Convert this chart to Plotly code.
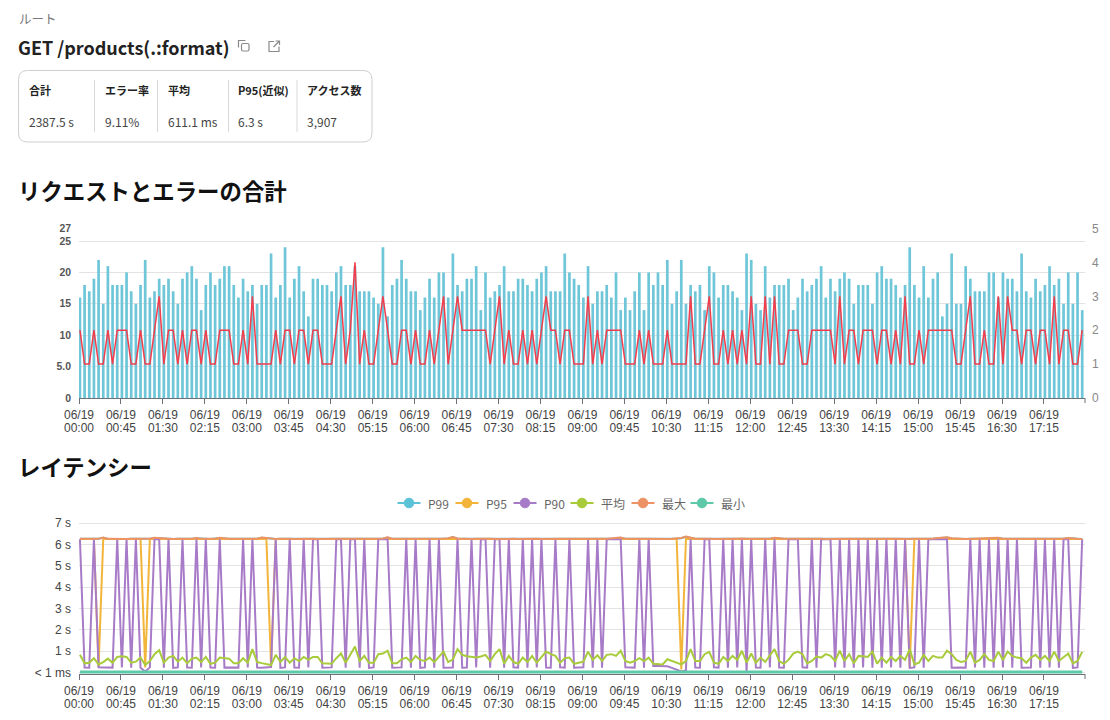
import plotly.graph_objects as go
import pandas as pd

W, H = 1110, 720
FONT = "Noto Sans CJK JP, Noto Sans, sans-serif"
NUM_FONT = "Liberation Sans, Arial, sans-serif"


def px(x):
    return x / W


def py(y):
    return 1 - y / H


# ---------------- data ----------------
times = pd.date_range("2024-06-19 00:01", periods=216, freq="5min")
x_start = "2024-06-19 00:00"
x_end = "2024-06-19 17:59"

requests = [
    16, 18, 17, 19, 22, 15, 21, 18, 18, 18, 20, 17, 15, 18, 22, 16, 17, 19, 18, 19,
    17, 15, 19, 20, 21, 19, 14, 18, 20, 18, 19, 21, 21, 18, 16, 19, 17, 18, 15, 18,
    18, 23, 16, 18, 24, 16, 19, 21, 17, 13, 19, 19, 18, 18, 17, 20, 21, 18, 18, 21,
    17, 17, 17, 16, 15, 24, 13, 18, 19,
    22, 19, 17, 17, 14, 16, 19, 16, 20, 20, 16, 23, 18, 17, 19, 19, 21, 14, 20, 16,
    17, 18, 21, 17, 17, 19, 19, 18, 17, 19, 20, 21, 17, 17, 17, 23, 20, 19, 18, 16,
    21, 15, 17, 17, 18, 16, 20, 14, 16, 14, 17, 20, 14, 20, 18, 20, 18, 22, 15, 17,
    22, 15, 18, 17, 18, 14, 21, 20, 16, 18, 18, 17, 16, 14, 23, 22, 15,
    14, 21, 16, 18, 18, 18, 19, 14, 16, 19, 17, 18, 19, 21, 16, 19, 17, 19, 20, 19,
    15, 18, 18, 18, 15, 20, 21, 19, 19, 18, 16, 18, 24, 18, 16, 21, 16, 19, 20, 13,
    15, 23, 15, 15, 21, 19, 17, 17, 17, 20, 20, 16, 20, 19, 19, 17, 23, 17, 16, 19,
    17, 18, 21, 18, 19, 15, 20, 15, 20, 14,
]

errors = [
    2, 1, 1, 2, 1, 1, 2, 1, 2, 2, 2, 1, 1, 2, 1, 1, 2, 3, 1, 2,
    2, 1, 2, 1, 2, 2, 1, 2, 1, 1, 2, 2, 2, 1, 1, 2, 1, 3, 1, 1,
    1, 1, 2, 1, 2, 2, 1, 2, 2, 1, 2, 2, 1, 1, 1, 2, 3, 1, 2, 4,
    1, 2, 1, 1, 2, 3, 2, 1, 1,
    2, 2, 1, 2, 1, 1, 2, 1, 2, 3, 1, 2, 3, 2, 2, 2, 2, 2, 2, 1,
    2, 3, 1, 2, 1, 1, 2, 1, 2, 1, 2, 3, 2, 2, 1, 2, 2, 1, 1, 1,
    3, 1, 2, 1, 2, 2, 2, 2, 1, 1, 1, 2, 1, 2, 1, 1, 1, 2, 1, 1,
    1, 1, 3, 1, 1, 2, 3, 1, 1, 2, 1, 2, 1, 2, 1, 3, 1,
    1, 3, 1, 3, 1, 1, 2, 2, 2, 1, 1, 2, 2, 2, 2, 2, 1, 3, 1, 2,
    2, 1, 2, 2, 2, 1, 2, 2, 1, 2, 1, 3, 1, 1, 2, 1, 2, 2, 2, 2,
    2, 2, 1, 1, 2, 3, 1, 1, 2, 1, 1, 3, 1, 3, 2, 2, 1, 2, 2, 1,
    2, 2, 1, 3, 1, 2, 2, 1, 1, 2,
]

lat_max = [
    6.27, 6.26, 6.27, 6.27, 6.28, 6.33, 6.27, 6.26, 6.27, 6.27, 6.26, 6.27,
    6.27, 6.28, 6.26, 6.27, 6.32, 6.30, 6.27, 6.26, 6.26, 6.27, 6.27, 6.26,
    6.28, 6.31, 6.27, 6.27, 6.26, 6.28, 6.32, 6.29, 6.27, 6.27, 6.26, 6.27,
    6.27, 6.28, 6.28, 6.33, 6.31, 6.27, 6.26, 6.27, 6.28, 6.27, 6.26, 6.27,
    6.28, 6.27, 6.27, 6.26, 6.27, 6.28, 6.29, 6.27, 6.27, 6.26, 6.27, 6.28,
    6.27, 6.26, 6.27, 6.28, 6.27, 6.29, 6.34, 6.28, 6.27, 6.27, 6.26, 6.27,
    6.27, 6.28, 6.27, 6.26, 6.27, 6.27, 6.29, 6.30, 6.36, 6.29, 6.27, 6.27,
    6.26, 6.27, 6.28, 6.27, 6.27, 6.26, 6.27, 6.28, 6.27, 6.27, 6.26, 6.27,
    6.27, 6.28, 6.27, 6.26, 6.27, 6.27, 6.28, 6.27, 6.27, 6.26, 6.27, 6.27,
    6.28, 6.27, 6.26, 6.27, 6.27, 6.28, 6.29, 6.30, 6.33, 6.28, 6.27, 6.27,
    6.26, 6.27, 6.27, 6.26, 6.27, 6.27, 6.26, 6.27, 6.28, 6.31, 6.38, 6.32,
    6.28, 6.27, 6.28, 6.27, 6.26, 6.27, 6.27, 6.28, 6.27, 6.27, 6.29, 6.27,
    6.27, 6.28, 6.27, 6.26, 6.28, 6.32, 6.29, 6.27, 6.27, 6.26, 6.27, 6.27,
    6.27, 6.28, 6.27, 6.27, 6.26, 6.27, 6.28, 6.27, 6.27, 6.28, 6.27, 6.26,
    6.27, 6.27, 6.28, 6.27, 6.27, 6.26, 6.27, 6.28, 6.27, 6.27, 6.26, 6.28,
    6.27, 6.27, 6.28, 6.29, 6.31, 6.32, 6.34, 6.30, 6.27, 6.27, 6.26, 6.27,
    6.27, 6.28, 6.27, 6.28, 6.29, 6.32, 6.28, 6.27, 6.27, 6.26, 6.27, 6.27,
    6.27, 6.28, 6.27, 6.27, 6.26, 6.27, 6.28, 6.29, 6.31, 6.28, 6.27, 6.26,
]

lat_p99 = [
    6.27, 6.26, 6.27, 6.27, 6.27, 6.32, 6.27, 6.26, 6.27, 6.27, 6.26, 6.27,
    6.27, 6.27, 6.26, 6.27, 6.31, 6.29, 6.27, 6.26, 6.26, 6.27, 6.27, 6.26,
    6.27, 6.30, 6.27, 6.27, 6.26, 6.27, 6.31, 6.28, 6.27, 6.27, 6.26, 6.27,
    6.27, 6.27, 6.27, 6.32, 6.30, 6.27, 6.26, 6.27, 6.27, 6.27, 6.26, 6.27,
    6.27, 6.27, 6.27, 6.26, 6.27, 6.27, 6.28, 6.27, 6.27, 6.26, 6.27, 6.27,
    6.27, 6.26, 6.27, 6.27, 6.27, 6.28, 6.33, 6.27, 6.27, 6.27, 6.26, 6.27,
    6.27, 6.27, 6.27, 6.26, 6.27, 6.27, 6.28, 6.29, 6.35, 6.28, 6.27, 6.27,
    6.26, 6.27, 6.27, 6.27, 6.27, 6.26, 6.27, 6.27, 6.27, 6.27, 6.26, 6.27,
    6.27, 6.27, 6.27, 6.26, 6.27, 6.27, 6.27, 6.27, 6.27, 6.26, 6.27, 6.27,
    6.27, 6.27, 6.26, 6.27, 6.27, 6.27, 6.28, 6.29, 6.32, 6.27, 6.27, 6.27,
    6.26, 6.27, 6.27, 6.26, 6.27, 6.27, 6.26, 6.27, 6.27, 6.30, 6.37, 6.31,
    6.27, 6.27, 6.27, 6.27, 6.26, 6.27, 6.27, 6.27, 6.27, 6.27, 6.28, 6.27,
    6.27, 6.27, 6.27, 6.26, 6.27, 6.31, 6.28, 6.27, 6.27, 6.26, 6.27, 6.27,
    6.27, 6.27, 6.27, 6.27, 6.26, 6.27, 6.27, 6.27, 6.27, 6.27, 6.27, 6.26,
    6.27, 6.27, 6.27, 6.27, 6.27, 6.26, 6.27, 6.27, 6.27, 6.27, 6.26, 6.27,
    6.27, 6.27, 6.27, 6.28, 6.30, 6.31, 6.33, 6.29, 6.27, 6.27, 6.26, 6.27,
    6.27, 6.27, 6.27, 6.27, 6.28, 6.31, 6.27, 6.27, 6.27, 6.26, 6.27, 6.27,
    6.27, 6.27, 6.27, 6.27, 6.26, 6.27, 6.27, 6.28, 6.30, 6.27, 6.27, 6.26,
]

lat_p95 = [
    6.26, 6.26, 6.26, 6.26, 0.25, 6.26, 6.26, 6.26, 6.26, 6.26, 6.26, 6.26,
    6.26, 6.26, 0.24, 6.26, 6.26, 6.26, 6.26, 6.26, 6.26, 6.26, 6.26, 6.26,
    6.26, 6.26, 6.26, 6.26, 6.26, 6.26, 6.26, 6.26, 6.26, 6.26, 6.26, 6.26,
    6.26, 6.26, 6.26, 6.26, 6.26, 0.30, 6.26, 6.26, 6.26, 6.26, 6.26, 6.26,
    6.26, 6.26, 6.26, 6.26, 6.26, 6.26, 6.26, 6.26, 6.26, 6.26, 6.26, 6.26,
    6.26, 6.26, 6.26, 6.26, 6.26, 6.26, 6.26, 6.26, 6.26, 6.26, 6.26, 6.26,
    6.26, 6.26, 6.26, 6.26, 6.26, 6.26, 6.26, 6.26, 6.26, 6.26, 6.26, 6.26,
    6.26, 6.26, 6.26, 6.26, 6.26, 6.26, 6.26, 6.26, 6.26, 6.26, 6.26, 6.26,
    6.26, 6.26, 6.26, 6.26, 6.26, 6.26, 6.26, 6.26, 6.26, 6.26, 6.26, 6.26,
    6.26, 6.26, 6.26, 6.26, 6.26, 6.26, 6.26, 6.26, 6.26, 6.26, 6.26, 6.26,
    6.26, 6.26, 6.26, 6.26, 6.26, 6.26, 6.26, 6.26, 6.26, 0.14, 6.26, 6.26,
    6.26, 6.26, 6.26, 6.26, 6.26, 6.26, 6.26, 6.26, 6.26, 6.26, 6.26, 6.26,
    6.26, 6.26, 6.26, 6.26, 6.26, 6.26, 6.26, 6.26, 6.26, 6.26, 6.26, 6.26,
    6.26, 6.26, 6.26, 6.26, 6.26, 6.26, 6.26, 6.26, 6.26, 6.26, 6.26, 6.26,
    6.26, 6.26, 6.26, 6.26, 6.26, 6.26, 6.26, 6.26, 6.26, 6.26, 0.22, 6.26,
    6.26, 6.26, 6.26, 6.26, 6.26, 6.26, 6.26, 6.26, 6.26, 6.26, 6.26, 6.26,
    6.26, 6.26, 6.26, 6.26, 6.26, 6.26, 6.26, 6.26, 6.26, 6.26, 6.26, 6.26,
    6.26, 6.26, 6.26, 6.26, 6.26, 6.26, 6.26, 6.26, 6.26, 6.26, 6.26, 6.26,
]

lat_p90 = [
    6.25, 0.23, 0.22, 6.25, 0.24, 0.23, 0.22, 0.23, 6.25, 0.24, 6.25, 0.23,
    6.25, 0.22, 0.05, 0.24, 6.25, 6.25, 0.23, 6.25, 0.22, 0.24, 6.25, 0.23,
    0.22, 6.25, 0.24, 6.25, 0.23, 0.22, 6.25, 0.23, 0.24, 0.22, 0.23, 6.25,
    0.24, 6.25, 0.23, 0.22, 0.23, 0.26, 6.25, 0.22, 0.24, 6.25, 0.23, 0.22,
    6.25, 0.24, 6.25, 6.25, 0.22, 0.23, 0.24, 6.25, 6.25, 0.22, 6.25, 6.25,
    0.23, 6.25, 0.22, 0.24, 6.25, 6.25, 6.25, 0.22, 0.23, 0.24, 6.25, 0.23,
    6.25, 0.22, 0.24, 6.25, 0.23, 6.25, 0.22, 0.24, 0.23, 6.25, 0.22, 0.23,
    6.25, 0.24, 6.25, 6.25, 0.23, 6.25, 6.25, 0.22, 6.25, 0.24, 0.23, 6.25,
    0.22, 6.25, 0.24, 6.25, 0.23, 0.22, 6.25, 0.24, 0.23, 6.25, 0.22, 0.23,
    0.24, 6.25, 0.22, 6.25, 0.23, 6.25, 6.25, 6.25, 6.25, 0.24, 0.22, 0.23,
    6.25, 0.23, 6.25, 0.30, 0.30, 0.30, 0.29, 0.22, 0.12, 0.05, 0.10, 6.25,
    0.23, 0.22, 6.25, 6.25, 0.24, 0.23, 6.25, 0.22, 6.25, 0.24, 6.25, 0.03,
    6.25, 0.23, 0.22, 6.25, 0.24, 6.25, 0.23, 0.22, 6.25, 6.25, 6.25, 0.24,
    0.23, 6.25, 0.22, 6.25, 6.25, 6.25, 0.24, 6.25, 0.23, 6.25, 0.22, 6.25,
    0.24, 6.25, 0.23, 6.25, 0.22, 6.25, 0.24, 6.25, 0.23, 6.25, 0.22, 0.24,
    6.25, 0.23, 6.25, 6.25, 6.25, 6.25, 6.25, 0.22, 0.24, 0.23, 0.22, 6.25,
    0.24, 6.25, 0.23, 6.25, 0.22, 6.25, 0.24, 6.25, 0.23, 6.25, 0.22, 0.24,
    0.23, 6.25, 0.22, 6.25, 0.24, 6.25, 0.23, 6.25, 6.25, 0.22, 0.24, 6.25,
]

lat_avg = [
    0.83, 0.43, 0.46, 0.67, 0.38, 0.49, 0.65, 0.46, 0.73, 0.76,
    0.73, 0.46, 0.51, 0.70, 0.35, 0.54, 0.86, 1.05, 0.46, 0.70,
    0.78, 0.51, 0.70, 0.43, 0.65, 0.70, 0.49, 0.73, 0.41, 0.46,
    0.70, 0.67, 0.65, 0.44, 0.44, 0.67, 0.46, 1.10, 0.49, 0.44,
    0.41, 0.35, 0.83, 0.50,
    0.73, 0.46, 0.67, 0.54, 0.73, 0.59, 0.73, 0.73, 0.43, 0.41,
    0.41, 0.67, 0.89, 0.46, 0.86, 1.22, 0.54, 0.78, 0.46, 0.46,
    0.86, 0.89, 1.02, 0.43, 0.43, 0.62, 0.70, 0.49, 0.78, 0.59,
    0.54, 0.70, 0.49, 0.73, 0.98, 0.49, 0.62, 1.10, 0.83, 0.76,
    0.73, 0.70, 0.75,
    0.83, 0.54, 0.86, 1.10, 0.41, 0.78, 0.49, 0.41, 0.70, 0.49,
    0.78, 0.46, 0.70, 0.98, 0.86, 0.78, 0.46, 0.67, 0.70, 0.41,
    0.46, 0.51, 0.98, 0.59, 0.81, 0.54, 0.83, 0.86, 0.78, 1.02,
    0.54, 0.46, 0.54, 0.67, 0.54, 0.70, 0.41, 0.38, 0.38, 0.62,
    0.54, 0.46, 0.38,
    0.54, 1.10, 0.54, 0.54, 0.86, 0.97, 0.46, 0.41, 0.73, 0.54,
    0.78, 0.59, 1.02, 0.46, 0.89, 0.46, 0.70, 0.49, 0.81, 1.10,
    0.54, 0.41, 0.59, 0.89, 0.98, 0.86, 0.43, 0.54, 0.75, 0.70,
    0.86, 0.78, 0.54, 1.02, 0.54, 0.86, 0.43, 0.78, 0.76, 0.73,
    0.98, 0.42,
    0.70, 0.46, 0.73, 0.54, 0.78, 0.59, 1.10, 0.38, 0.46, 0.83,
    0.54, 0.78, 0.70, 0.70, 1.02, 0.86, 0.59, 0.49, 0.54, 0.98,
    0.46, 0.59, 0.86, 0.59, 0.54, 0.98, 0.59, 0.98, 0.78, 0.70,
    0.67, 0.46, 0.70, 0.83, 0.59, 0.78, 0.54, 0.98, 0.54, 0.73,
    0.89, 0.43, 0.54, 0.97,
]

lat_min = [
    0.02, 0.02, 0.02, 0.02, 0.02, 0.02, 0.02, 0.02, 0.02, 0.02, 0.02, 0.02,
    0.02, 0.02, 0.02, 0.02, 0.02, 0.02, 0.02, 0.02, 0.02, 0.02, 0.02, 0.02,
    0.02, 0.02, 0.02, 0.02, 0.02, 0.02, 0.02, 0.02, 0.02, 0.02, 0.02, 0.02,
    0.02, 0.02, 0.02, 0.02, 0.02, 0.02, 0.02, 0.02, 0.02, 0.02, 0.02, 0.02,
    0.02, 0.02, 0.02, 0.02, 0.02, 0.02, 0.02, 0.02, 0.02, 0.02, 0.02, 0.02,
    0.02, 0.02, 0.02, 0.02, 0.02, 0.02, 0.02, 0.02, 0.02, 0.02, 0.02, 0.02,
    0.02, 0.02, 0.02, 0.02, 0.02, 0.02, 0.02, 0.02, 0.02, 0.02, 0.02, 0.02,
    0.02, 0.02, 0.02, 0.02, 0.02, 0.02, 0.02, 0.02, 0.02, 0.02, 0.02, 0.02,
    0.02, 0.02, 0.02, 0.02, 0.02, 0.02, 0.02, 0.02, 0.02, 0.02, 0.02, 0.02,
    0.02, 0.02, 0.02, 0.02, 0.02, 0.02, 0.02, 0.02, 0.02, 0.02, 0.02, 0.02,
    0.02, 0.02, 0.02, 0.02, 0.02, 0.02, 0.02, 0.02, 0.02, 0.02, 0.02, 0.02,
    0.02, 0.02, 0.02, 0.02, 0.02, 0.02, 0.02, 0.02, 0.02, 0.02, 0.02, 0.02,
    0.02, 0.02, 0.02, 0.02, 0.02, 0.02, 0.02, 0.02, 0.02, 0.02, 0.02, 0.02,
    0.02, 0.02, 0.02, 0.02, 0.02, 0.02, 0.02, 0.02, 0.02, 0.02, 0.02, 0.02,
    0.02, 0.02, 0.02, 0.02, 0.02, 0.02, 0.02, 0.02, 0.02, 0.02, 0.02, 0.02,
    0.02, 0.02, 0.02, 0.02, 0.02, 0.02, 0.02, 0.02, 0.02, 0.02, 0.02, 0.02,
    0.02, 0.02, 0.02, 0.02, 0.02, 0.02, 0.02, 0.02, 0.02, 0.02, 0.02, 0.02,
    0.02, 0.02, 0.02, 0.02, 0.02, 0.02, 0.02, 0.02, 0.02, 0.02, 0.02, 0.02,
]

req_ticks = [0, 5, 10, 15, 20, 25, 27]
req_ticktext = ["0", "5.0", "10", "15", "20", "25", "27"]
err_ticks = [0, 1, 2, 3, 4, 5]
lat_ticks = [0, 1, 2, 3, 4, 5, 6, 7, 7.07]
lat_ticktext = ["< 1 ms", "1 s", "2 s", "3 s", "4 s", "5 s", "6 s", "7 s", ""]

stat_labels = ["合計", "エラー率", "平均", "P95(近似)", "アクセス数"]
stat_values = ["2387.5 s", "9.11%", "611.1 ms", "6.3 s", "3,907"]

series_names = ["P99", "P95", "P90", "平均", "最大", "最小"]
series_colors = ["#5bc2d8", "#f2b53a", "#a77bc7", "#a7cb3a", "#ec9264", "#5ec9a8"]
series_data = [lat_p99, lat_p95, lat_p90, lat_avg, lat_max, lat_min]

for arr in [requests, errors] + series_data:
    assert len(arr) == 216, len(arr)

# ---------------- figure ----------------
fig = go.Figure()

fig.add_trace(go.Bar(
    x=times, y=requests, xaxis="x", yaxis="y",
    marker=dict(color="#6ec6d8", line=dict(width=0)),
    width=174000, hoverinfo="skip",
))
fig.add_trace(go.Scatter(
    x=times, y=errors, xaxis="x", yaxis="y2", mode="lines",
    line=dict(color="#f23d4c", width=1.5), hoverinfo="skip",
))

line_widths = [2, 2, 2, 2, 2, 3]
for name, col, data, lw in zip(series_names, series_colors, series_data, line_widths):
    fig.add_trace(go.Scatter(
        x=times, y=data, xaxis="x2", yaxis="y3", mode="lines", name=name,
        line=dict(color=col, width=lw), hoverinfo="skip",
    ))
# empty traces so that the overlaid time-of-day label axes get drawn
fig.add_trace(go.Scatter(x=[times[0]], y=[None], xaxis="x3", yaxis="y",
                         mode="lines", hoverinfo="skip"))
fig.add_trace(go.Scatter(x=[times[0]], y=[None], xaxis="x4", yaxis="y3",
                         mode="lines", hoverinfo="skip"))

XD = [px(79), px(1085)]
xtick_font = dict(size=12, color="#444", family=NUM_FONT)

base_x = dict(
    domain=XD, type="date", range=[x_start, x_end], tick0=x_start, dtick=2700000,
    showgrid=False, zeroline=False, automargin=False,
)

fig.update_layout(
    width=W, height=H, margin=dict(l=0, r=0, t=0, b=0, autoexpand=False),
    paper_bgcolor="white", plot_bgcolor="white",
    font=dict(family=FONT, size=12, color="#333"),
    showlegend=False,
    xaxis=dict(base_x, anchor="y", tickformat="%m/%d", ticks="outside", ticklen=5,
               tickcolor="#6e7079", showline=True, linecolor="#6e7079", linewidth=1,
               tickfont=xtick_font, ticklabelstandoff=1),
    xaxis3=dict(base_x, anchor="y", overlaying="x", side="bottom", tickformat="%H:%M",
                ticks="", showline=False, tickfont=xtick_font, ticklabelstandoff=21),
    yaxis=dict(domain=[py(398), py(228.5)], anchor="x", range=[0, 27],
               tickmode="array", tickvals=req_ticks, ticktext=req_ticktext,
               showgrid=True, gridcolor="#e3e3e3", zeroline=False, showline=False,
               tickfont=dict(size=10.4, color="#555", family=NUM_FONT, weight="bold"),
               ticks="", ticklabelstandoff=7, automargin=False),
    yaxis2=dict(domain=[py(398), py(228.5)], anchor="x", overlaying="y", side="right",
                range=[0, 5], tickmode="array", tickvals=err_ticks, showgrid=False,
                zeroline=False, showline=False,
                tickfont=dict(size=12, color="#888", family=NUM_FONT), ticks="",
                ticklabelstandoff=6, automargin=False),
    xaxis2=dict(base_x, anchor="y3", tickformat="%m/%d", ticks="outside", ticklen=5,
                tickcolor="#6e7079", showline=True, linecolor="#6e7079", linewidth=1,
                tickfont=xtick_font, ticklabelstandoff=1),
    xaxis4=dict(base_x, anchor="y3", overlaying="x2", side="bottom", tickformat="%H:%M",
                ticks="", showline=False, tickfont=xtick_font, ticklabelstandoff=21),
    yaxis3=dict(domain=[py(674), py(521.8)], anchor="x2", range=[-0.07, 7.07],
                tickmode="array", tickvals=lat_ticks, ticktext=lat_ticktext,
                showgrid=True, gridcolor="#e3e3e3", zeroline=False, showline=False,
                tickfont=dict(size=12, color="#444", family=NUM_FONT), ticks="",
                ticklabelstandoff=7, automargin=False),
)

# ---------------- header, titles, legend ----------------
ann = []


def text(x, y, s, size, color, bold=False, anchor="left", family=FONT):
    ann.append(dict(
        x=px(x), y=py(y), xref="paper", yref="paper", text=s, showarrow=False,
        xanchor=anchor, yanchor="middle",
        font=dict(size=size, color=color, family=family, weight="bold" if bold else "normal"),
    ))


text(17, 18, "ルート", 12.5, "#777")
text(16, 47, "GET /products(.:format)", 18, "#222", bold=True)

stat_x = [27, 103, 166, 236, 305]
for sx, lab, val in zip(stat_x, stat_labels, stat_values):
    text(sx, 90, lab, 11, "#222", bold=True)
    text(sx, 121, val, 12, "#444")

text(16, 190, "リクエストとエラーの合計", 22.4, "#111", bold=True)
text(16, 466, "レイテンシー", 22.4, "#111", bold=True)


def P(x, y):
    return f"{px(x):.6f},{py(y):.6f}"


def rounded_rect(x0, y0, x1, y1, r):
    return (f"M {P(x0 + r, y0)} L {P(x1 - r, y0)} Q {P(x1, y0)} {P(x1, y0 + r)} "
            f"L {P(x1, y1 - r)} Q {P(x1, y1)} {P(x1 - r, y1)} "
            f"L {P(x0 + r, y1)} Q {P(x0, y1)} {P(x0, y1 - r)} "
            f"L {P(x0, y0 + r)} Q {P(x0, y0)} {P(x0 + r, y0)} Z")


shapes = []
shapes.append(dict(type="path", xref="paper", yref="paper",
                   path=rounded_rect(18.5, 70.5, 372, 142, 9),
                   line=dict(color="#cfcfcf", width=1), fillcolor="rgba(0,0,0,0)"))
for sx in [94.5, 157.5, 228.5, 297]:
    shapes.append(dict(type="line", xref="paper", yref="paper",
                       x0=px(sx), x1=px(sx), y0=py(80), y1=py(132),
                       line=dict(color="#d8d8d8", width=1)))

# copy icon
shapes.append(dict(type="path", xref="paper", yref="paper",
                   path=f"M {P(238.5, 47.5)} L {P(238.5, 40.5)} L {P(245.5, 40.5)}",
                   line=dict(color="#8a8a8a", width=1.2)))
shapes.append(dict(type="path", xref="paper", yref="paper",
                   path=rounded_rect(241.5, 43.5, 249, 51, 1.5),
                   line=dict(color="#8a8a8a", width=1.2), fillcolor="rgba(0,0,0,0)"))
# external link icon
shapes.append(dict(type="path", xref="paper", yref="paper",
                   path=f"M {P(274, 41.5)} L {P(269, 41.5)} L {P(269, 51.5)} L {P(279, 51.5)} L {P(279, 46.5)}",
                   line=dict(color="#8a8a8a", width=1.2)))
shapes.append(dict(type="path", xref="paper", yref="paper",
                   path=f"M {P(273.5, 47)} L {P(279.5, 41)} M {P(275.5, 41)} L {P(279.5, 41)} L {P(279.5, 45)}",
                   line=dict(color="#8a8a8a", width=1.2)))

# closing ticks at the right end of both time axes
for yb in [398, 674]:
    shapes.append(dict(type="line", xref="paper", yref="paper",
                       x0=px(1085), x1=px(1085), y0=py(yb), y1=py(yb + 5),
                       line=dict(color="#6e7079", width=1)))

# legend of the latency chart (line + circle icon, label)
legend_cx = [409, 467, 525, 582, 643, 702]
LY = 503
for cx, name, col in zip(legend_cx, series_names, series_colors):
    shapes.append(dict(type="line", xref="paper", yref="paper",
                       x0=px(cx - 11.5), x1=px(cx + 11.5), y0=py(LY), y1=py(LY),
                       line=dict(color=col, width=2)))
    shapes.append(dict(type="circle", xref="paper", yref="paper",
                       x0=px(cx - 4.8), x1=px(cx + 4.8), y0=py(LY - 4.8), y1=py(LY + 4.8),
                       line=dict(color=col, width=1), fillcolor=col))
    text(cx + 17, LY, name, 12, "#666")

fig.update_layout(shapes=shapes, annotations=ann)

fig.write_html("out.html", post_script="document.body.style.margin='0px';",
               config={"displayModeBar": False})
